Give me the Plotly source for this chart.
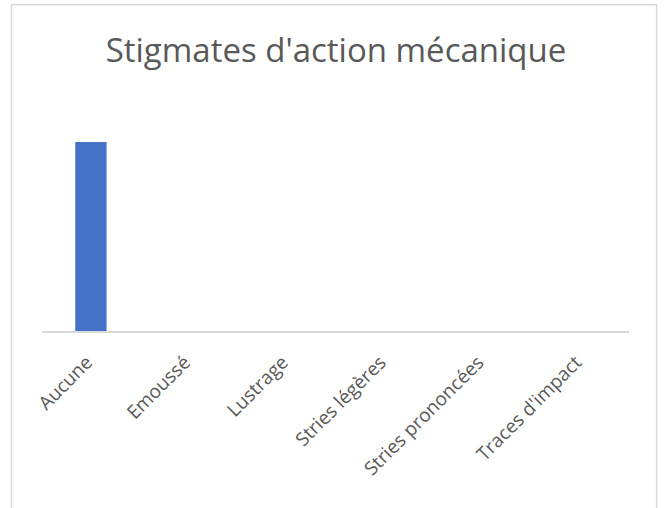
import plotly.graph_objects as go

categories = ["Aucune", "Emoussé", "Lustrage", "Stries légères", "Stries prononcées", "Traces d'impact"]
values = [1, 0, 0, 0, 0, 0]

title_text = "Stigmates d'action mécanique"

fig = go.Figure()
fig.add_trace(go.Bar(x=categories, y=values, marker=dict(color="#4472C4", line=dict(width=0)),
                     hoverinfo="skip"))

fig.update_layout(
    width=664, height=508,
    margin=dict(l=42, r=35, t=100, b=177),
    paper_bgcolor="white", plot_bgcolor="white",
    bargap=0.68,
    showlegend=False,
    title=dict(text=title_text, x=0.506, xanchor="center", y=0.9, yanchor="middle",
               font=dict(family="Open Sans", size=33, color="#595959")),
    font=dict(family="Open Sans", color="#595959"),
    shapes=[dict(type="rect", xref="paper", yref="paper", x0=-0.052, x1=1.047, y0=-0.8, y1=1.412,
                 line=dict(color="#d9d9d9", width=1.5), layer="below")],
)
fig.update_xaxes(showline=True, linecolor="#d9d9d9", linewidth=1.5, ticks="", tickangle=-45,
                 tickfont=dict(family="Open Sans", size=19, color="#595959"), showgrid=False,
                 automargin=False, ticklabelstandoff=11, ticklabelshift=-4)
fig.update_yaxes(visible=False, range=[0, 1.222], showgrid=False, zeroline=False, automargin=False)

fig.write_html("out.html", config={"displayModeBar": False},
               post_script="document.body.style.margin='0';document.body.style.overflow='hidden';")
